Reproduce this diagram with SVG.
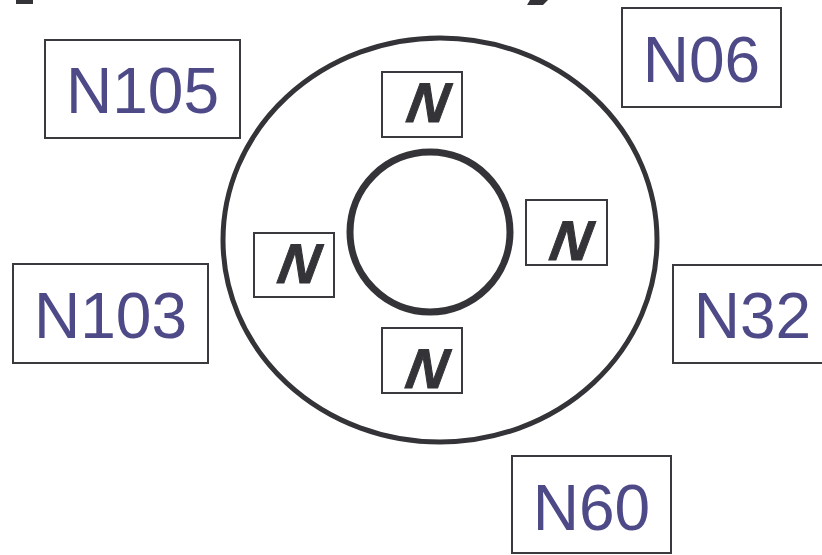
<svg xmlns="http://www.w3.org/2000/svg" width="822" height="555" viewBox="0 0 822 555">
<style>
.box{fill:#fff;stroke:#3a3a3e;stroke-width:2}
.lbl{font-family:"Liberation Sans",Arial,sans-serif;font-size:64px;fill:#4e4a88;text-anchor:middle}
.sbox{fill:#fff;stroke:#3a3a3e;stroke-width:2}
.n{font-family:"Liberation Sans",Arial,sans-serif;font-size:56px;font-weight:bold;font-style:italic;fill:#333338;stroke:#333338;stroke-width:1;text-anchor:middle}
</style>
<rect width="822" height="555" fill="#fff"/>
<g id="fragments" fill="#333338">
<rect x="16" y="0" width="17" height="4"/>
<polygon points="530,0 548,0 543,5 527,5"/>
</g>
<g id="rings" fill="none" stroke="#333338">
<ellipse id="outer" cx="440" cy="240" rx="217" ry="202" stroke-width="5"/>
<circle id="inner" cx="430" cy="232" r="80" stroke-width="7"/>
</g>
<g id="connectors"></g>
<g id="n-top"><rect class="sbox" x="382" y="72" width="80" height="65"/><text class="n" transform="translate(425,122) skewX(-10)" x="0" y="0">N</text></g>
<g id="n-left"><rect class="sbox" x="254" y="233" width="80" height="64"/><text class="n" transform="translate(296,283) skewX(-10)" x="0" y="0">N</text></g>
<g id="n-right"><rect class="sbox" x="526" y="200" width="81" height="65"/><text class="n" transform="translate(568,260) skewX(-10)" x="0" y="0">N</text></g>
<g id="n-bottom"><rect class="sbox" x="382" y="328" width="80" height="65"/><text class="n" transform="translate(424,388) skewX(-10)" x="0" y="0">N</text></g>
<g id="N105"><rect class="box" x="45" y="40" width="195" height="98"/><text class="lbl" x="142.5" y="113">N105</text></g>
<g id="N06"><rect class="box" x="622" y="8" width="159" height="99"/><text class="lbl" x="701.5" y="82">N06</text></g>
<g id="N103"><rect class="box" x="13" y="264" width="195" height="99"/><text class="lbl" x="110.5" y="338">N103</text></g>
<g id="N32"><rect class="box" x="673" y="265" width="159" height="98"/><text class="lbl" x="752.5" y="338">N32</text></g>
<g id="N60"><rect class="box" x="512" y="456" width="159" height="97"/><text class="lbl" x="591.5" y="530">N60</text></g>
</svg>
